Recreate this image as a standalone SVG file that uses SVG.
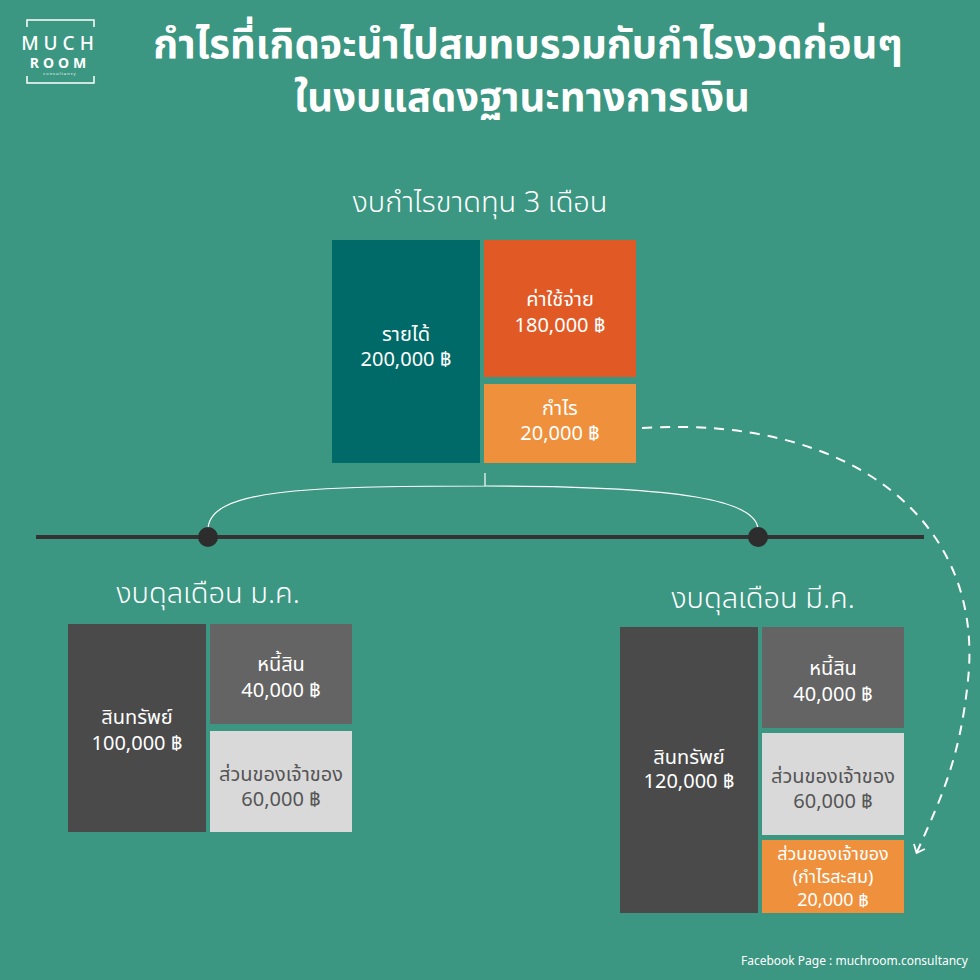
<svg xmlns="http://www.w3.org/2000/svg" width="980" height="980" viewBox="0 0 980 980">
<style>
text{font-family:"Noto Sans","Noto Sans Thai","Loma",sans-serif;fill:#fff;text-anchor:middle}
.t{font-size:20px}
.s{font-size:18px}
.h{font-size:29px;font-weight:300}
.dk{fill:#555}
</style>
<defs>
<marker id="ah" markerWidth="14" markerHeight="14" refX="7" refY="7" orient="auto" markerUnits="userSpaceOnUse"><path d="M1,1 L8,7 L1,13" fill="none" stroke="#fff" stroke-width="1.8"/></marker>
</defs>
<rect width="980" height="980" fill="#3b9682"/>
<g id="logo">
<path d="M27,27 V20 H94 V27 M27,76 V83 H94 V76" fill="none" stroke="#fff" stroke-width="1.5"/>
<text x="60" y="50" style="font-size:19px;letter-spacing:5px;font-weight:500">MUCH</text>
<text x="60" y="68" style="font-size:14px;letter-spacing:4px;font-weight:700">ROOM</text>
<text x="60" y="75" style="font-size:4px;letter-spacing:1px">consultancy</text>
</g>
<g id="title">
<text x="528" y="58" style="font-size:40px;font-weight:700">กำไรที่เกิดจะนำไปสมทบรวมกับกำไรงวดก่อนๆ</text>
<text x="522" y="111" style="font-size:40px;font-weight:700">ในงบแสดงฐานะทางการเงิน</text>
</g>
<text class="h" x="480" y="212">งบกำไรขาดทุน 3 เดือน</text>
<g id="connectors">
<line x1="36" y1="537" x2="924" y2="537" stroke="#333" stroke-width="4"/>
<path d="M485,473 V486 M208,530 C208,490 300,486 485,486 C680,486 758,500 758,530" fill="none" stroke="#fff" stroke-width="1.2"/>
<path d="M642,428 C850,415 985,520 968,680 C960,760 940,800 917,852" fill="none" stroke="#fff" stroke-width="2" stroke-dasharray="10 8" marker-end="url(#ah)"/>
<circle cx="208" cy="537" r="10" fill="#2d2d2d"/>
<circle cx="758" cy="537" r="10" fill="#2d2d2d"/>
</g>
<g id="revenue"><rect x="332" y="240" width="148" height="223" fill="#006a69"/><text class="t" x="406" y="341">รายได้</text><text class="t" x="406" y="366">200,000 ฿</text></g>
<g id="expense"><rect x="484" y="240" width="152" height="137" fill="#e15a26"/><text class="t" x="560" y="306">ค่าใช้จ่าย</text><text class="t" x="560" y="332">180,000 ฿</text></g>
<g id="profit"><rect x="484" y="384" width="152" height="79" fill="#ee903c"/><text class="t" x="560" y="415">กำไร</text><text class="t" x="560" y="440">20,000 ฿</text></g>
<text class="h" x="208" y="603">งบดุลเดือน ม.ค.</text>
<g id="assetJan"><rect x="68" y="624" width="138" height="208" fill="#4a4a4a"/><text class="t" x="137" y="724">สินทรัพย์</text><text class="t" x="137" y="750">100,000 ฿</text></g>
<g id="liabJan"><rect x="210" y="624" width="142" height="100" fill="#646464"/><text class="t" x="281" y="671">หนี้สิน</text><text class="t" x="281" y="697">40,000 ฿</text></g>
<g id="eqJan"><rect x="210" y="731" width="142" height="101" fill="#d9d9d9"/><text class="t dk" x="281" y="781">ส่วนของเจ้าของ</text><text class="t dk" x="281" y="806">60,000 ฿</text></g>
<text class="h" x="763" y="608">งบดุลเดือน มี.ค.</text>
<g id="assetMar"><rect x="620" y="627" width="138" height="286" fill="#4a4a4a"/><text class="t" x="689" y="764">สินทรัพย์</text><text class="t" x="689" y="788">120,000 ฿</text></g>
<g id="liabMar"><rect x="762" y="627" width="142" height="101" fill="#646464"/><text class="t" x="833" y="675">หนี้สิน</text><text class="t" x="833" y="701">40,000 ฿</text></g>
<g id="eqMar"><rect x="762" y="733" width="142" height="102" fill="#d9d9d9"/><text class="t dk" x="833" y="783">ส่วนของเจ้าของ</text><text class="t dk" x="833" y="808">60,000 ฿</text></g>
<g id="retained"><rect x="762" y="840" width="142" height="73" fill="#ee903c"/><text class="s" x="833" y="860">ส่วนของเจ้าของ</text><text class="s" x="833" y="883">(กำไรสะสม)</text><text class="s" x="833" y="906">20,000 ฿</text></g>
<text x="968" y="965" style="font-size:12px;text-anchor:end">Facebook Page : muchroom.consultancy</text>
</svg>
